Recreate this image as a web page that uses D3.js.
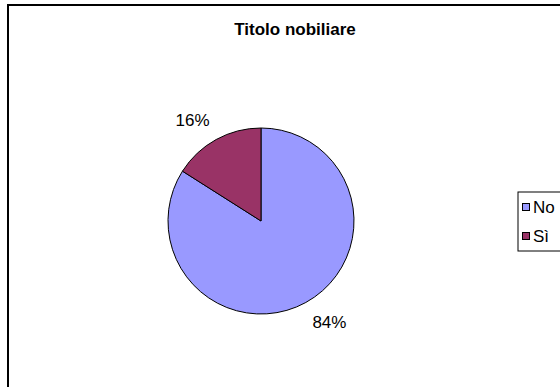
<!DOCTYPE html>
<html>
<head>
<meta charset="utf-8">
<script src="https://cdn.jsdelivr.net/npm/d3@7"></script>
<style>
  html, body { margin: 0; padding: 0; background: #fff; }
  svg { display: block; }
</style>
</head>
<body>
<svg id="chart" width="560" height="387"></svg>
<script>
const title = "Titolo nobiliare";
const categories = ["No", "Sì"];
const values = [84, 16];
const colors = ["#9999FF", "#993366"];
const labels = ["84%", "16%"];

const svg = d3.select("#chart");
const font = "Arial, 'Liberation Sans', sans-serif";

// outer frame (extends past right/bottom edges)
svg.append("rect")
  .attr("x", 8).attr("y", 5)
  .attr("width", 600).attr("height", 420)
  .attr("fill", "#fff").attr("stroke", "#000").attr("stroke-width", 2);

svg.append("text")
  .attr("x", 295).attr("y", 35)
  .attr("text-anchor", "middle")
  .attr("font-family", font).attr("font-size", 17).attr("font-weight", "bold")
  .text(title);

const cx = 261, cy = 221, r = 93;
const pie = d3.pie().sort(null).value(d => d)(values);
const arc = d3.arc().innerRadius(0).outerRadius(r);
const g = svg.append("g").attr("transform", `translate(${cx},${cy})`);

g.selectAll("path").data(pie).enter().append("path")
  .attr("d", arc)
  .attr("fill", (d, i) => colors[i])
  .attr("stroke", "#000").attr("stroke-width", 1);

const labelR = 122, labelShift = 5.3 * Math.PI / 180;
g.selectAll("text.lbl").data(pie).enter().append("text")
  .attr("class", "lbl")
  .attr("transform", d => {
    const a = (d.startAngle + d.endAngle) / 2 - labelShift;
    return `translate(${labelR * Math.sin(a)},${-labelR * Math.cos(a)})`;
  })
  .attr("text-anchor", "middle")
  .attr("dy", "0.35em")
  .attr("font-family", font).attr("font-size", 17)
  .text((d, i) => labels[i]);

// legend
const lg = svg.append("g").attr("transform", "translate(518,192)");
lg.append("rect").attr("x", 0).attr("y", 0).attr("width", 60).attr("height", 59)
  .attr("fill", "#fff").attr("stroke", "#000").attr("stroke-width", 1);
categories.forEach((c, i) => {
  const y = 15 + i * 29;
  lg.append("rect").attr("x", 4.5).attr("y", y - 3.5).attr("width", 7).attr("height", 7)
    .attr("fill", colors[i]).attr("stroke", "#000").attr("stroke-width", 1);
  lg.append("text").attr("x", 15).attr("y", y).attr("dy", "0.35em")
    .attr("font-family", font).attr("font-size", 17).text(c);
});
</script>
</body>
</html>
